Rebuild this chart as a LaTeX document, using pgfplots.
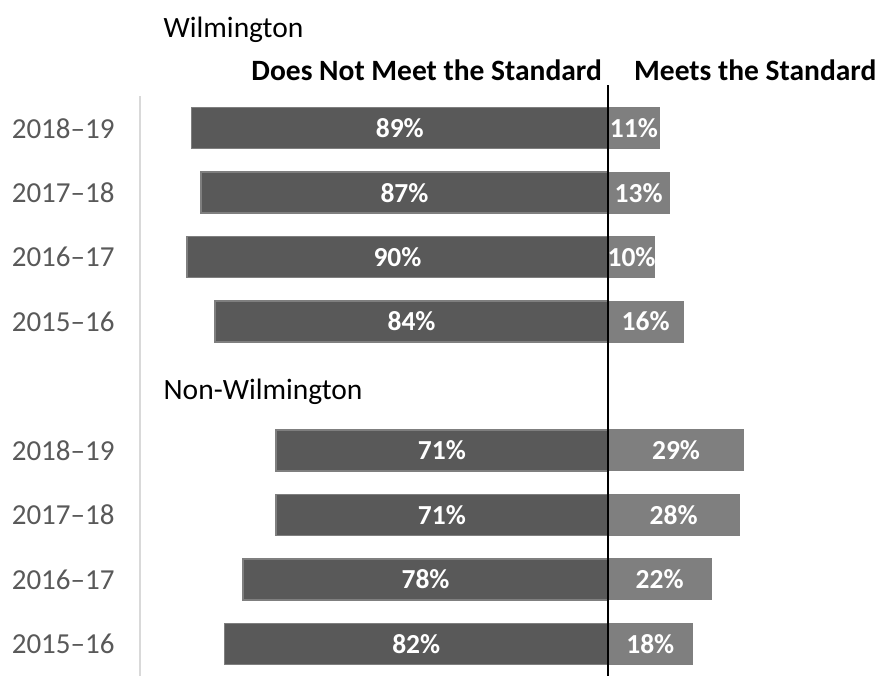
\documentclass[border=0pt]{standalone}
\usepackage{fontspec}
\setmainfont{Carlito}
\usepackage{pgfplots}
\pgfplotsset{compat=1.18}
\definecolor{darkbar}{HTML}{595959}
\definecolor{lightbar}{HTML}{7F7F7F}
\definecolor{axisgray}{HTML}{D9D9D9}
\definecolor{ticktext}{HTML}{595959}
\newcommand{\bigfont}{\fontsize{27.5}{32}\selectfont}
\newcommand{\headfont}{\fontsize{29.5}{34}\selectfont}
\begin{document}
\begin{tikzpicture}
\begin{axis}[
    scale only axis,
    width=735pt, height=580pt,
    xmin=-100, xmax=57,
    ymin=-0.5, ymax=8.5,
    y dir=reverse,
    clip=false,
    axis x line=none,
    axis y line*=left,
    y axis line style={axisgray, line width=1.5pt},
    ytick={0,1,2,3,5,6,7,8},
    yticklabels={2018--19,2017--18,2016--17,2015--16,2018--19,2017--18,2016--17,2015--16},
    yticklabel style={font=\fontsize{29}{32}\selectfont, text=ticktext, xshift=-22pt},
    major tick length=0pt,
    bar width=41pt,
    bar shift=0pt,
]
% Does Not Meet the Standard
\addplot[xbar, fill=darkbar, draw=lightbar, line width=1.5pt] coordinates {
    (-89,0) (-87,1) (-90,2) (-84,3)
    (-71,5) (-71,6) (-78,7) (-82,8)};
% Meets the Standard
\addplot[xbar, fill=lightbar, draw=lightbar, line width=0pt] coordinates {
    (11,0) (13,1) (10,2) (16,3)
    (29,5) (28,6) (22,7) (18,8)};
% value labels, centred in each bar
\addplot[only marks, mark=none, point meta=explicit symbolic, nodes near coords,
    nodes near coords style={anchor=center, text=white, font=\bigfont\bfseries}]
    coordinates {
    (-44.5,0)[89\%] (-43.5,1)[87\%] (-45,2)[90\%] (-42,3)[84\%]
    (-35.5,5)[71\%] (-35.5,6)[71\%] (-39,7)[78\%] (-41,8)[82\%]};
\addplot[only marks, mark=none, point meta=explicit symbolic, nodes near coords,
    nodes near coords style={anchor=center, text=white, font=\bigfont\bfseries}]
    coordinates {
    (5.5,0)[11\%] (6.5,1)[13\%] (5,2)[10\%] (8,3)[16\%]
    (14.5,5)[29\%] (14,6)[28\%] (11,7)[22\%] (9,8)[18\%]};
% zero line
\draw[black, line width=2pt] (axis cs:0,8.5) -- ([yshift=11pt]axis cs:0,-0.5);
% headings
\node[anchor=west, font=\headfont] at (axis cs:-95.7,-1.52) {Wilmington};
\node[anchor=east, font=\headfont\bfseries] at (axis cs:-0.6,-0.9) {Does Not Meet the Standard};
\node[anchor=west, font=\headfont\bfseries] at (axis cs:4.8,-0.9) {Meets the Standard};
\node[anchor=west, font=\headfont] at (axis cs:-95.7,4.09) {Non-Wilmington};
\end{axis}
\pgfresetboundingbox
\path[use as bounding box] (-140pt,1pt) rectangle (737pt,676pt);
\end{tikzpicture}
\end{document}
